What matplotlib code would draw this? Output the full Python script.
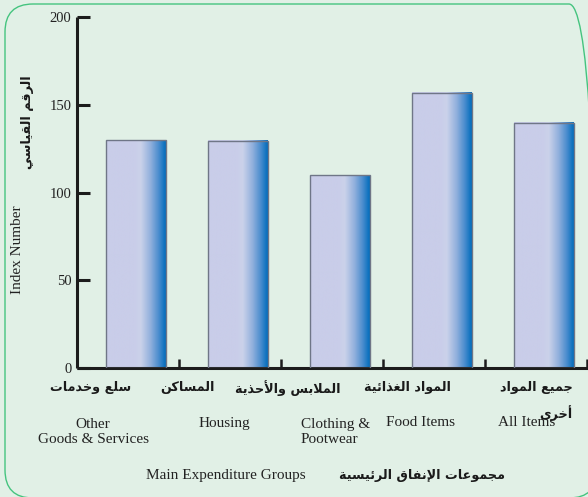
import numpy as np
import matplotlib
matplotlib.use("Agg")
import matplotlib.pyplot as plt
from matplotlib.colors import LinearSegmentedColormap
from matplotlib.patches import FancyBboxPatch

# ── data ─────────────────────────────────────────────
CATS_EN = ["Other\nGoods & Services", "Housing", "Clothing &\nPootwear", "Food Items", "All Items"]
CATS_AR = ["سلع وخدمات", "المساكن", "الملابس والأحذية", "المواد الغذائية", "جميع المواد"]
VALUES = [130, 129.5, 110, 157, 140]
YTICKS = [0, 50, 100, 150, 200]
YLABEL_EN = "Index Number"
YLABEL_AR = "الرقم القياسي"
XLABEL_EN = "Main Expenditure Groups"
XLABEL_AR = "مجموعات الإنفاق الرئيسية"
EXTRA_AR = "أخرى"

# ── minimal arabic shaping (matplotlib has no text shaping) ──
FORMS = {
    "ا": (0xFE8D, 0xFE8E), "أ": (0xFE83, 0xFE84), "إ": (0xFE87, 0xFE88),
    "ب": (0xFE8F, 0xFE90, 0xFE91, 0xFE92), "ة": (0xFE93, 0xFE94),
    "ت": (0xFE95, 0xFE96, 0xFE97, 0xFE98), "ج": (0xFE9D, 0xFE9E, 0xFE9F, 0xFEA0),
    "ح": (0xFEA1, 0xFEA2, 0xFEA3, 0xFEA4), "خ": (0xFEA5, 0xFEA6, 0xFEA7, 0xFEA8),
    "د": (0xFEA9, 0xFEAA), "ذ": (0xFEAB, 0xFEAC), "ر": (0xFEAD, 0xFEAE),
    "س": (0xFEB1, 0xFEB2, 0xFEB3, 0xFEB4), "ع": (0xFEC9, 0xFECA, 0xFECB, 0xFECC),
    "غ": (0xFECD, 0xFECE, 0xFECF, 0xFED0), "ف": (0xFED1, 0xFED2, 0xFED3, 0xFED4),
    "ق": (0xFED5, 0xFED6, 0xFED7, 0xFED8), "ك": (0xFED9, 0xFEDA, 0xFEDB, 0xFEDC),
    "ل": (0xFEDD, 0xFEDE, 0xFEDF, 0xFEE0), "م": (0xFEE1, 0xFEE2, 0xFEE3, 0xFEE4),
    "ن": (0xFEE5, 0xFEE6, 0xFEE7, 0xFEE8), "و": (0xFEED, 0xFEEE),
    "ى": (0xFEEF, 0xFEF0), "ي": (0xFEF1, 0xFEF2, 0xFEF3, 0xFEF4),
    "ئ": (0xFE89, 0xFE8A, 0xFE8B, 0xFE8C),
}
LAM_ALEF = {"ا": (0xFEFB, 0xFEFC), "أ": (0xFEF7, 0xFEF8), "إ": (0xFEF9, 0xFEFA)}


def shape(text):
    toks = []
    i = 0
    while i < len(text):
        if text[i] == "ل" and i + 1 < len(text) and text[i + 1] in LAM_ALEF:
            toks.append(LAM_ALEF[text[i + 1]]); i += 2
        else:
            toks.append(FORMS.get(text[i], text[i])); i += 1
    out = []
    for k, t in enumerate(toks):
        if isinstance(t, str):
            out.append(t); continue
        prev = toks[k - 1] if k > 0 else None
        nxt = toks[k + 1] if k + 1 < len(toks) else None
        jp = isinstance(prev, tuple) and len(prev) == 4
        jn = len(t) == 4 and isinstance(nxt, tuple)
        if jp and jn:
            c = t[3]
        elif jp:
            c = t[1]
        elif jn:
            c = t[2]
        else:
            c = t[0]
        out.append(chr(c))
    return "".join(out[::-1])


W, H = 588, 497
BG = "#e1f0e6"
fig = plt.figure(figsize=(W / 100, H / 100), dpi=100, facecolor=BG)

def px(x, y):
    return x / W, 1 - y / H

# rounded frame
frame = FancyBboxPatch((0.05, -0.01), 5.92, 4.94,
                       boxstyle="round,pad=0,rounding_size=0.28",
                       transform=fig.dpi_scale_trans, fill=False,
                       ec="#45c47f", lw=1.0)
fig.add_artist(frame)

y0, y200 = 368, 17.3
ax = fig.add_axes([77 / W, (H - y0) / H, (W - 77) / W, (y0 - y200) / H])
ax.set_facecolor("none")

cmap = LinearSegmentedColormap.from_list("barfill", [
    (0.0, "#c9cde9"), (0.48, "#c9cde9"), (0.58, "#cbd2ea"),
    (0.74, "#93b1dd"), (0.88, "#4b8dce"), (1.0, "#006cbc")])
grad = np.linspace(0, 1, 256).reshape(1, -1)

bw = 0.588
xs = np.arange(len(VALUES))
bars = ax.bar(xs, VALUES, width=bw, facecolor="none",
              edgecolor="#6f7687", linewidth=1.0, zorder=3)
for b in bars:
    x0 = b.get_x()
    ax.imshow(grad, cmap=cmap, aspect="auto", zorder=2,
              extent=(x0, x0 + b.get_width(), 0, b.get_height()))

ax.set_xlim(-0.578, 4.43)
ax.set_ylim(0, 200)

for s in ["top", "right"]:
    ax.spines[s].set_visible(False)
for s in ["left", "bottom"]:
    ax.spines[s].set_linewidth(2.2)
    ax.spines[s].set_color("#1c1c1c")
    ax.spines[s].set_capstyle("butt")

ax.set_yticks(YTICKS)
ax.set_yticklabels([str(v) for v in YTICKS], family="Liberation Serif",
                   fontsize=10.5, color="#222222")
ax.tick_params(axis="y", direction="in", length=9.5, width=2.2,
               color="#1c1c1c", pad=4)
ax.set_xticks(xs + 0.42)
ax.set_xticklabels([])
ax.tick_params(axis="x", direction="in", length=6.5, width=1.8,
               color="#1c1c1c")

# category labels
ar_font = dict(family="DejaVu Sans", fontweight="bold", fontsize=9.2,
               color="#1a1a1a", ha="center", va="center")
en_font = dict(family="Liberation Serif", fontsize=11, color="#222222",
               va="center")
ar_x = [91, 187, 288, 407, 536]
for x, t in zip(ar_x, CATS_AR):
    fig.text(*px(x, 388), shape(t), **ar_font)
fig.text(*px(556, 413), shape(EXTRA_AR), **ar_font)

fig.text(*px(93, 432), CATS_EN[0], ha="center", multialignment="center",
         linespacing=1.2, **en_font)
fig.text(*px(224, 423), CATS_EN[1], ha="center", **en_font)
fig.text(*px(301, 432), CATS_EN[2], ha="left", multialignment="left",
         linespacing=1.2, **en_font)
fig.text(*px(421, 423), CATS_EN[3], ha="center", **en_font)
fig.text(*px(527, 423), CATS_EN[4], ha="center", **en_font)

fig.text(*px(226, 475), XLABEL_EN, ha="center", **en_font)
fig.text(*px(422, 475), shape(XLABEL_AR), **ar_font)

fig.text(*px(18, 250), YLABEL_EN, ha="center", rotation=90, **en_font)
fig.text(*px(27, 122), shape(YLABEL_AR), rotation=90, **ar_font)

fig.savefig("out.png", dpi=100, facecolor=BG)
